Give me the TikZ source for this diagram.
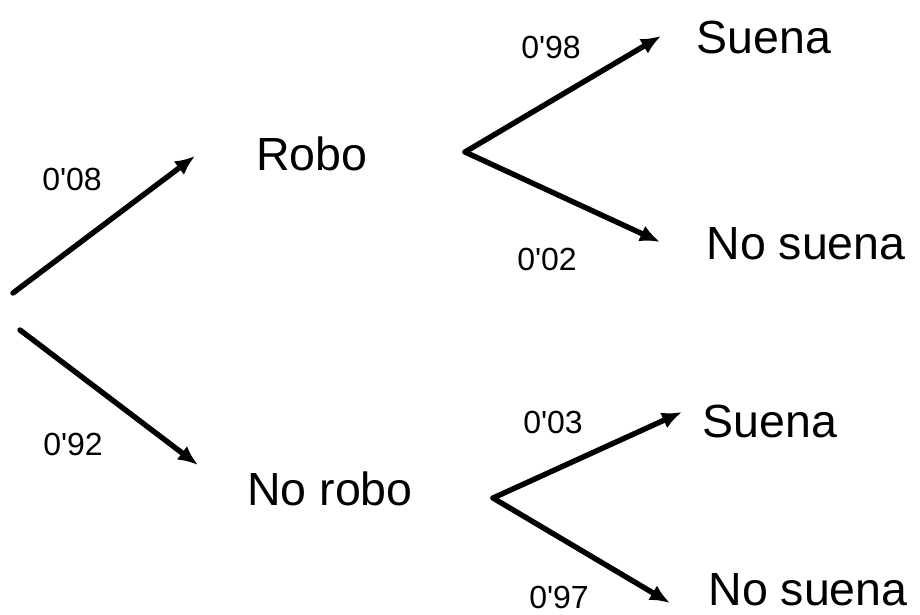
\documentclass[tikz,border=0pt]{standalone}
\usepackage{fontspec}
\setmainfont{Liberation Sans}
\usetikzlibrary{arrows.meta,positioning}

\begin{document}
\begin{tikzpicture}[x=1pt,y=-1pt,
		main node/.style={draw=none,fill=none,inner sep=0pt,anchor=base,font=\fontsize{46.5}{50}\selectfont},
		prob node/.style={draw=none,fill=none,inner sep=0pt,anchor=base,font=\fontsize{32}{36}\selectfont},
		branch/.style={line width=5.4pt,line cap=round,-{Latex[length=20pt,width=17pt]}}]
		\useasboundingbox (0,0) rectangle (920,614);
		
		\node[main node] (robo) at (312,170) {Robo};
		\node[main node] (norobo) at (330,505) {No robo};
		\node[main node] (s1) at (764,53) {Suena};
		\node[main node] (n1) at (806,259) {No suena};
		\node[main node] (s2) at (770,437) {Suena};
		\node[main node] (n2) at (808,605) {No suena};
		
		\coordinate (r1) at (13,293);
		\coordinate (r2) at (20,330);
		\coordinate (b1) at (465,152);
		\coordinate (b2) at (493,498);
		\coordinate (trobo) at (195,156);
		\coordinate (tnorobo) at (198,465);
		\coordinate (ts1) at (661,36);
		\coordinate (tn1) at (660,242);
		\coordinate (ts2) at (682,412);
		\coordinate (tn2) at (670,603);
		
		\draw[branch] (r1) to (trobo);
		\draw[branch] (r2) to (tnorobo);
		\draw[branch] (b1) to (ts1);
		\draw[branch] (b1) to (tn1);
		\draw[branch] (b2) to (ts2);
		\draw[branch] (b2) to (tn2);
		
		\node[prob node] (p1) at (72,190) {0\textquotesingle08};
		\node[prob node] (p2) at (73,455) {0\textquotesingle92};
		\node[prob node] (p3) at (551,58) {0\textquotesingle98};
		\node[prob node] (p4) at (547,270) {0\textquotesingle02};
		\node[prob node] (p5) at (553,433) {0\textquotesingle03};
		\node[prob node] (p6) at (559,608) {0\textquotesingle97};
		\end{tikzpicture}
\end{document}
